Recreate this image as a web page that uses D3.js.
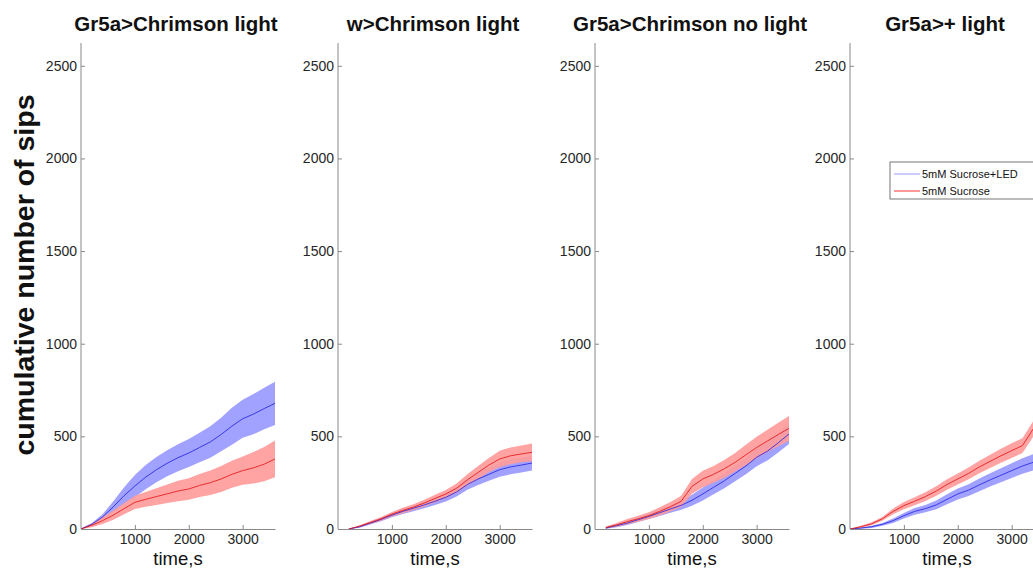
<!DOCTYPE html>
<html>
<head>
<meta charset="utf-8">
<script src="https://cdn.jsdelivr.net/npm/d3@7"></script>
<style>
  body { margin: 0; background: #fff; }
  svg { display: block; font-family: "Liberation Sans", Arial, sans-serif; }
</style>
</head>
<body>
<svg id="chart" width="1033" height="570"></svg>
<script>
"use strict";

// time points (s)
var times = [0, 200, 400, 600, 800, 1000, 1200, 1400, 1600, 1800, 2000, 2200, 2400, 2600, 2800, 3000, 3200, 3400, 3600];

var panelTitles = ["Gr5a>Chrimson light", "w>Chrimson light", "Gr5a>Chrimson no light", "Gr5a>+ light"];
var seriesNames = ["5mM Sucrose+LED", "5mM Sucrose"];
var yTicks = [0, 500, 1000, 1500, 2000, 2500];
var xTicks = [1000, 2000, 3000];

// mean cumulative sips, sucrose+LED (blue) per panel
var ledMean = [
    [0, 25, 65, 120, 180, 232, 280, 320, 355, 385, 410, 440, 470, 510, 555, 595, 620, 650, 678],
    [null, 0, 12, 32, 52, 75, 95, 112, 130, 150, 171, 200, 240, 270, 295, 320, 335, 345, 356],
    [null, 5, 18, 32, 50, 68, 88, 108, 128, 155, 189, 225, 260, 300, 340, 387, 420, 465, 513],
    [0, 5, 12, 25, 45, 72, 95, 110, 130, 160, 189, 210, 238, 265, 290, 315, 340, 360, 380]
];
var ledErr = [
    [3, 8, 15, 30, 45, 60, 65, 68, 70, 73, 76, 80, 85, 90, 100, 103, 108, 112, 117],
    [null, 2, 5, 8, 10, 12, 14, 16, 18, 20, 22, 25, 28, 32, 35, 38, 40, 40, 40],
    [null, 3, 8, 10, 12, 14, 18, 20, 24, 30, 35, 38, 40, 42, 45, 48, 50, 52, 54],
    [2, 4, 6, 8, 12, 15, 18, 20, 24, 27, 30, 32, 34, 36, 38, 40, 42, 44, 45]
];

// mean cumulative sips, sucrose only (red) per panel
var sucMean = [
    [0, 20, 45, 75, 110, 144, 160, 175, 190, 205, 216, 235, 250, 270, 295, 315, 330, 350, 378],
    [null, 0, 15, 35, 55, 80, 100, 118, 140, 165, 189, 220, 265, 305, 345, 378, 395, 405, 414],
    [null, 8, 22, 40, 55, 72, 95, 120, 150, 230, 270, 295, 325, 360, 400, 440, 475, 510, 543],
    [0, 12, 28, 55, 95, 126, 150, 175, 205, 240, 270, 300, 335, 365, 395, 423, 450, 540, 570]
];
var sucErr = [
    [3, 10, 18, 25, 30, 36, 40, 45, 50, 55, 58, 62, 66, 70, 73, 76, 85, 92, 99],
    [null, 2, 5, 8, 10, 12, 15, 16, 18, 20, 22, 25, 30, 35, 38, 45, 45, 45, 48],
    [null, 5, 10, 14, 16, 18, 22, 26, 30, 40, 45, 45, 48, 50, 55, 58, 60, 63, 67],
    [2, 5, 8, 10, 15, 20, 22, 24, 26, 28, 30, 32, 34, 36, 38, 40, 40, 42, 44]
];

var svg = d3.select("#chart");

var panelLeft = [81, 338, 595, 850];
var panelW = 194, plotTop = 43, plotBottom = 529;
var axisCol = "#888", textCol = "#262626";

var y = d3.scaleLinear().domain([0, 2623]).range([plotBottom, plotTop]);

var seriesStyle = [
    {mean: ledMean, err: ledErr, line: "#2020e0", fill: "rgb(153,153,255)"},
    {mean: sucMean, err: sucErr, line: "#e01010", fill: "rgb(255,155,155)"}
];

panelLeft.forEach(function (left, p) {
    var x = d3.scaleLinear().domain([0, 3600]).range([left, left + panelW]);
    var g = svg.append("g");

    seriesStyle.forEach(function (s) {
        var pts = times.map(function (t, i) {
            return {t: t, m: s.mean[p][i], e: s.err[p][i]};
        }).filter(function (d) { return d.m !== null; });

        g.append("path")
            .attr("d", d3.area()
                .x(function (d) { return x(d.t); })
                .y0(function (d) { return y(Math.max(0, d.m - d.e)); })
                .y1(function (d) { return y(d.m + d.e); })(pts))
            .attr("fill", s.fill)
            .attr("fill-opacity", 0.92);
    });

    seriesStyle.forEach(function (s) {
        var pts = times.map(function (t, i) {
            return {t: t, m: s.mean[p][i]};
        }).filter(function (d) { return d.m !== null; });

        g.append("path")
            .attr("d", d3.line()
                .x(function (d) { return x(d.t); })
                .y(function (d) { return y(d.m); })(pts))
            .attr("fill", "none")
            .attr("stroke", s.line)
            .attr("stroke-width", 0.8);
    });

    // y axis
    var ya = g.append("g").attr("transform", "translate(" + left + ",0)")
        .call(d3.axisLeft(y).tickValues(yTicks).tickFormat(d3.format("d"))
            .tickSizeInner(-4).tickSizeOuter(0).tickPadding(4));
    ya.select(".domain").attr("stroke", axisCol).attr("d", "M0," + plotTop + "V" + plotBottom);
    ya.selectAll(".tick line").attr("stroke", axisCol);
    ya.selectAll(".tick text").attr("fill", textCol).attr("font-size", 14)
        .attr("font-family", "Liberation Sans, Arial, sans-serif");

    // x axis
    var xa = g.append("g").attr("transform", "translate(0," + plotBottom + ")")
        .call(d3.axisBottom(x).tickValues(xTicks).tickFormat(d3.format("d"))
            .tickSizeInner(-4).tickSizeOuter(0).tickPadding(5));
    xa.select(".domain").attr("stroke", axisCol);
    xa.selectAll(".tick line").attr("stroke", axisCol);
    xa.selectAll(".tick text").attr("fill", textCol).attr("font-size", 14)
        .attr("font-family", "Liberation Sans, Arial, sans-serif");

    g.append("text")
        .attr("x", left + panelW / 2).attr("y", 565)
        .attr("text-anchor", "middle")
        .attr("font-size", 18.5).attr("fill", "#111")
        .text("time,s");

    g.append("text")
        .attr("x", left + panelW / 2 - 2).attr("y", 31)
        .attr("text-anchor", "middle")
        .attr("font-size", 20.5).attr("font-weight", "bold").attr("fill", "#111")
        .text(panelTitles[p]);
});

svg.append("text")
    .attr("transform", "translate(34,275) rotate(-90)")
    .attr("text-anchor", "middle")
    .attr("font-size", 28.5).attr("font-weight", "bold").attr("fill", "#111")
    .text("cumulative number of sips");

// legend
var leg = svg.append("g").attr("transform", "translate(890,162)");
leg.append("rect").attr("width", 150).attr("height", 37)
    .attr("fill", "#fff").attr("stroke", "#777").attr("stroke-width", 1);
var legColors = ["#9a9aff", "#ff3030"];
seriesNames.forEach(function (name, i) {
    var ly = 12 + i * 17;
    leg.append("line").attr("x1", 4).attr("x2", 30).attr("y1", ly).attr("y2", ly)
        .attr("stroke", legColors[i]).attr("stroke-width", 1);
    leg.append("text").attr("x", 32).attr("y", ly + 4)
        .attr("font-size", 11).attr("fill", "#111").text(name);
});
</script>
</body>
</html>
